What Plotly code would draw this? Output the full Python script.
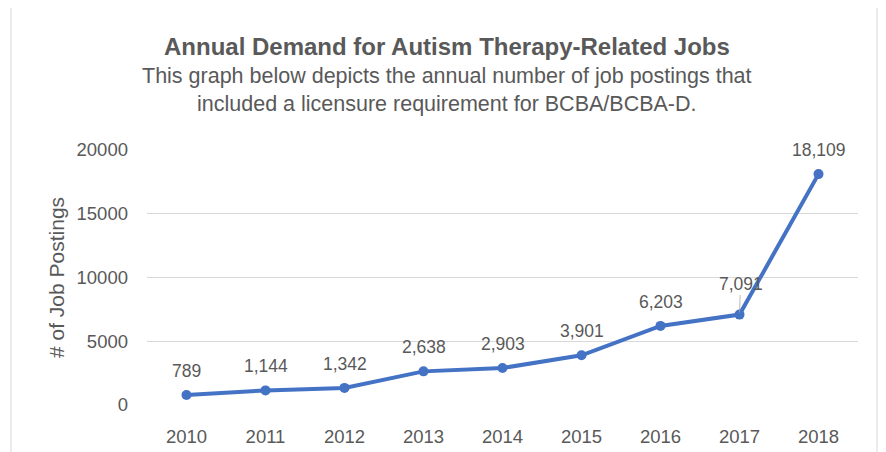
import plotly.graph_objects as go

years = ["2010", "2011", "2012", "2013", "2014", "2015", "2016", "2017", "2018"]
postings = [789, 1144, 1342, 2638, 2903, 3901, 6203, 7091, 18109]
labels = ["789", "1,144", "1,342", "2,638", "2,903", "3,901", "6,203", "7,091", "18,109"]
y_ticks = [0, 5000, 10000, 15000, 20000]

FONT = "Liberation Sans, Arial, sans-serif"
GREY = "#595959"

fig = go.Figure()
fig.add_trace(go.Scatter(
    x=years, y=postings, mode="lines+markers",
    line=dict(color="#4472C4", width=4),
    marker=dict(color="#4472C4", size=10),
    hoverinfo="skip", showlegend=False,
))

annotations = []
for i, (v, lab) in enumerate(zip(postings, labels)):
    if lab == "7,091":
        annotations.append(dict(x=i, y=v, xref="x", yref="y", text=lab,
                                showarrow=True, arrowhead=0, arrowwidth=0.8,
                                arrowcolor="#a6a6a6", ax=1, ay=-31, standoff=2,
                                font=dict(family=FONT, size=17.5, color=GREY)))
    else:
        annotations.append(dict(x=i, y=v, xref="x", yref="y", text=lab,
                                showarrow=False, yshift=24,
                                font=dict(family=FONT, size=17.5, color=GREY)))

annotations += [
    dict(x=0.422, y=1.404, xref="paper", yref="paper", showarrow=False,
         yanchor="middle",
         text="<b>Annual Demand for Autism Therapy-Related Jobs</b>",
         font=dict(family=FONT, size=24, color=GREY)),
    dict(x=0.422, y=1.290, xref="paper", yref="paper", showarrow=False,
         yanchor="middle",
         text="This graph below depicts the annual number of job postings that",
         font=dict(family=FONT, size=21.5, color=GREY)),
    dict(x=0.422, y=1.180, xref="paper", yref="paper", showarrow=False,
         yanchor="middle",
         text="included a licensure requirement for BCBA/BCBA-D.",
         font=dict(family=FONT, size=21.5, color=GREY)),
]

fig.update_layout(
    width=886, height=452,
    margin=dict(l=139, r=36, t=142, b=55, autoexpand=False),
    paper_bgcolor="white", plot_bgcolor="white",
    annotations=annotations,
    shapes=[dict(type="rect", xref="paper", yref="paper",
                 x0=-0.1913, x1=1.0267, y0=-0.3, y1=1.5608,
                 line=dict(color="#d9d9d9", width=1), fillcolor="rgba(0,0,0,0)",
                 layer="below")],
    xaxis=dict(type="category", range=[-0.5, len(years) - 0.5], automargin=False,
               showgrid=False, showline=False, zeroline=False,
               tickfont=dict(family=FONT, size=18.5, color=GREY),
               ticks="", ticklabelstandoff=18, fixedrange=True),
    yaxis=dict(range=[0, 20000], tickvals=y_ticks, showgrid=True, automargin=False,
               gridcolor="#d9d9d9", gridwidth=1, zeroline=False, showline=False,
               tickfont=dict(family=FONT, size=18.5, color=GREY),
               ticks="", ticklabelstandoff=18, tickformat="d",
               title=dict(text="# of Job Postings", standoff=6,
                          font=dict(family=FONT, size=21, color=GREY)),
               fixedrange=True),
)

fig.write_html("out.html")
